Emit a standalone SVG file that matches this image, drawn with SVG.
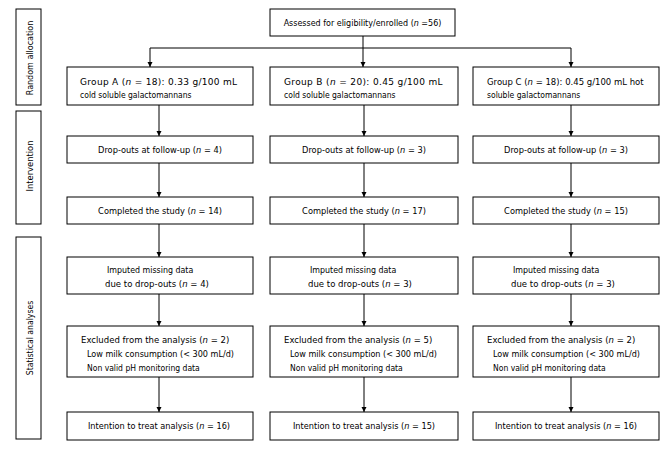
<svg xmlns="http://www.w3.org/2000/svg" width="670" height="455" viewBox="0 0 670 455">
<style>
rect{fill:#fff;stroke:#000;stroke-width:1}
text{font-family:"DejaVu Sans","Liberation Sans",sans-serif;font-size:9px;fill:#000}
.c{text-anchor:middle}
.i{font-style:italic}
#connectors line{stroke:#000;stroke-width:1}
.a{marker-end:url(#ah)}
</style>
<defs>
<marker id="ah" markerUnits="userSpaceOnUse" markerWidth="6" markerHeight="6" refX="5" refY="3" orient="auto"><path d="M0,0.5 L5,3 L0,5.5 z" fill="#000"/></marker>
</defs>
<rect width="670" height="455" style="stroke:none"/>
<g id="side-random"><rect x="16" y="9" width="25" height="96"/><text class="c" transform="translate(32.5,58) rotate(-90) scale(0.89,1)">Random allocation</text></g>
<g id="side-intervention"><rect x="16" y="111" width="25" height="113"/><text class="c" transform="translate(32.5,166) rotate(-90) scale(0.93,1)">Intervention</text></g>
<g id="side-stat"><rect x="16" y="237" width="25" height="202"/><text class="c" transform="translate(32.5,338) rotate(-90) scale(0.86,1)">Statistical analyses</text></g>

<g id="connectors">
<line x1="363" y1="36" x2="363" y2="67" class="a"/>
<line x1="150" y1="48" x2="571" y2="48"/>
<line x1="150" y1="48" x2="150" y2="67" class="a"/>
<line x1="571" y1="48" x2="571" y2="67" class="a"/>
<line x1="159" y1="105" x2="159" y2="136" class="a"/>
<line x1="364" y1="105" x2="364" y2="136" class="a"/>
<line x1="571" y1="105" x2="571" y2="136" class="a"/>
<line x1="159" y1="163" x2="159" y2="197" class="a"/>
<line x1="364" y1="163" x2="364" y2="197" class="a"/>
<line x1="571" y1="163" x2="571" y2="197" class="a"/>
<line x1="159" y1="224" x2="159" y2="257" class="a"/>
<line x1="364" y1="224" x2="364" y2="257" class="a"/>
<line x1="571" y1="224" x2="571" y2="257" class="a"/>
<line x1="159" y1="294" x2="159" y2="326" class="a"/>
<line x1="364" y1="294" x2="364" y2="326" class="a"/>
<line x1="571" y1="294" x2="571" y2="326" class="a"/>
<line x1="159" y1="377" x2="159" y2="412" class="a"/>
<line x1="364" y1="377" x2="364" y2="412" class="a"/>
<line x1="571" y1="377" x2="571" y2="412" class="a"/>
</g>

<g id="enrolled"><rect x="270" y="9" width="185" height="27"/><text class="c" transform="translate(362.5,26) scale(0.89,1)">Assessed for eligibility/enrolled (<tspan class="i">n</tspan> =56)</text></g>

<g id="groupA"><rect x="67" y="67" width="186" height="38"/>
<text transform="translate(80,84.5)" letter-spacing="0.3">Group A (<tspan class="i">n</tspan> = 18): 0.33 g/100 mL</text>
<text transform="translate(80,97.5) scale(0.85,1)">cold soluble galactomannans</text></g>
<g id="groupB"><rect x="270" y="67" width="188" height="38"/>
<text transform="translate(284,84.5)" letter-spacing="0.35">Group B (<tspan class="i">n</tspan> = 20): 0.45 g/100 mL</text>
<text transform="translate(284,97.5) scale(0.85,1)">cold soluble galactomannans</text></g>
<g id="groupC"><rect x="473" y="67" width="186" height="38"/>
<text transform="translate(487,84.5) scale(0.945,1)">Group C (<tspan class="i">n</tspan> = 18): 0.45 g/100 mL hot</text>
<text transform="translate(487,97.5) scale(0.85,1)">soluble galactomannans</text></g>

<g id="dropA"><rect x="67" y="136" width="186" height="27"/><text class="c" transform="translate(160,152.5) scale(0.92,1)">Drop-outs at follow-up (<tspan class="i">n</tspan> = 4)</text></g>
<g id="dropB"><rect x="270" y="136" width="188" height="27"/><text class="c" transform="translate(364,152.5) scale(0.92,1)">Drop-outs at follow-up (<tspan class="i">n</tspan> = 3)</text></g>
<g id="dropC"><rect x="473" y="136" width="186" height="27"/><text class="c" transform="translate(566,152.5) scale(0.92,1)">Drop-outs at follow-up (<tspan class="i">n</tspan> = 3)</text></g>

<g id="compA"><rect x="67" y="197" width="186" height="27"/><text class="c" transform="translate(160,213.5) scale(0.92,1)">Completed the study (<tspan class="i">n</tspan> = 14)</text></g>
<g id="compB"><rect x="270" y="197" width="188" height="27"/><text class="c" transform="translate(364,213.5) scale(0.92,1)">Completed the study (<tspan class="i">n</tspan> = 17)</text></g>
<g id="compC"><rect x="473" y="197" width="186" height="27"/><text class="c" transform="translate(566,213.5) scale(0.92,1)">Completed the study (<tspan class="i">n</tspan> = 15)</text></g>

<g id="impA"><rect x="67" y="257" width="186" height="37"/>
<text transform="translate(107,272.5) scale(0.88,1)">Imputed missing data</text>
<text transform="translate(105,286.5) scale(0.95,1)">due to drop-outs (<tspan class="i">n</tspan> = 4)</text></g>
<g id="impB"><rect x="270" y="257" width="188" height="37"/>
<text transform="translate(310,272.5) scale(0.88,1)">Imputed missing data</text>
<text transform="translate(308,286.5) scale(0.95,1)">due to drop-outs (<tspan class="i">n</tspan> = 3)</text></g>
<g id="impC"><rect x="473" y="257" width="186" height="37"/>
<text transform="translate(513,272.5) scale(0.88,1)">Imputed missing data</text>
<text transform="translate(511,286.5) scale(0.95,1)">due to drop-outs (<tspan class="i">n</tspan> = 3)</text></g>

<g id="exA"><rect x="67" y="326" width="186" height="51"/>
<text transform="translate(81,342.5) scale(0.95,1)">Excluded from the analysis (<tspan class="i">n</tspan> = 2)</text>
<text transform="translate(87,356.5) scale(0.9,1)">Low milk consumption (&lt; 300 mL/d)</text>
<text transform="translate(87,370.5) scale(0.85,1)">Non valid pH monitoring data</text></g>
<g id="exB"><rect x="270" y="326" width="188" height="51"/>
<text transform="translate(284,342.5) scale(0.95,1)">Excluded from the analysis (<tspan class="i">n</tspan> = 5)</text>
<text transform="translate(290,356.5) scale(0.9,1)">Low milk consumption (&lt; 300 mL/d)</text>
<text transform="translate(290,370.5) scale(0.85,1)">Non valid pH monitoring data</text></g>
<g id="exC"><rect x="473" y="326" width="186" height="51"/>
<text transform="translate(487,342.5) scale(0.95,1)">Excluded from the analysis (<tspan class="i">n</tspan> = 2)</text>
<text transform="translate(493,356.5) scale(0.9,1)">Low milk consumption (&lt; 300 mL/d)</text>
<text transform="translate(493,370.5) scale(0.85,1)">Non valid pH monitoring data</text></g>

<g id="ittA"><rect x="67" y="412" width="186" height="28"/><text class="c" transform="translate(159,429) scale(0.91,1)">Intention to treat analysis (<tspan class="i">n</tspan> = 16)</text></g>
<g id="ittB"><rect x="270" y="412" width="188" height="28"/><text class="c" transform="translate(364,429) scale(0.91,1)">Intention to treat analysis (<tspan class="i">n</tspan> = 15)</text></g>
<g id="ittC"><rect x="473" y="412" width="186" height="28"/><text class="c" transform="translate(566,429) scale(0.91,1)">Intention to treat analysis (<tspan class="i">n</tspan> = 16)</text></g>
</svg>
